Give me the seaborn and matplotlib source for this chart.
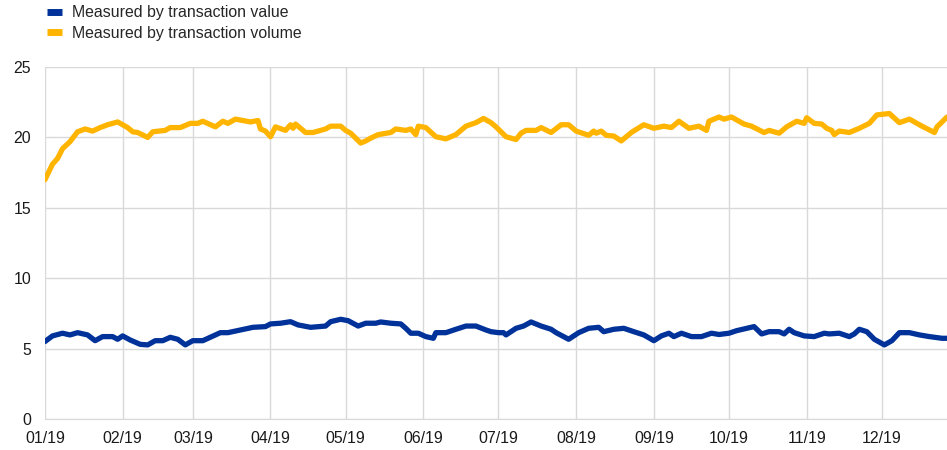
import pandas as pd
import seaborn as sns
import matplotlib.pyplot as plt
import matplotlib.dates as mdates
from matplotlib.lines import Line2D

# Values (2019)
value_dates = [
    "01-01", "01-04", "01-08", "01-11", "01-14", "01-18", "01-21", "01-24", "01-28", "01-30",
    "02-01", "02-04", "02-08", "02-11", "02-14", "02-17", "02-20", "02-23", "02-26", "03-01",
    "03-05", "03-12", "03-15", "03-20", "03-25", "03-30", "04-01", "04-05", "04-09", "04-12",
    "04-17", "04-23", "04-25", "04-29", "05-02", "05-06", "05-09", "05-13", "05-15", "05-19",
    "05-23", "05-25", "05-27", "05-30", "06-02", "06-05", "06-06", "06-10", "06-14", "06-18",
    "06-22", "06-26", "06-28", "07-01", "07-03", "07-04", "07-08", "07-11", "07-14", "07-18",
    "07-22", "07-24", "07-29", "08-02", "08-06", "08-10", "08-12", "08-16", "08-20", "08-24",
    "08-28", "09-01", "09-04", "09-07", "09-09", "09-12", "09-16", "09-20", "09-24", "09-27",
    "10-01", "10-04", "10-11", "10-14", "10-17", "10-21", "10-23", "10-25", "10-27", "10-31",
    "11-04", "11-08", "11-10", "11-14", "11-18", "11-20", "11-22", "11-25", "11-28", "12-02",
    "12-05", "12-08", "12-12", "12-16", "12-20", "12-25", "12-27",
]
by_value = [
    5.50, 5.90, 6.09, 5.97, 6.13, 5.97, 5.56, 5.85, 5.85, 5.66,
    5.90, 5.61, 5.30, 5.26, 5.56, 5.56, 5.80, 5.66, 5.26, 5.56,
    5.56, 6.13, 6.13, 6.32, 6.51, 6.56, 6.75, 6.80, 6.91, 6.68,
    6.51, 6.60, 6.91, 7.08, 6.98, 6.60, 6.80, 6.80, 6.89, 6.80,
    6.75, 6.44, 6.09, 6.09, 5.85, 5.73, 6.13, 6.13, 6.37, 6.60,
    6.60, 6.32, 6.20, 6.13, 6.13, 5.97, 6.44, 6.60, 6.89, 6.60,
    6.37, 6.13, 5.66, 6.13, 6.44, 6.51, 6.20, 6.37, 6.44, 6.20,
    5.97, 5.56, 5.90, 6.09, 5.85, 6.09, 5.85, 5.85, 6.09, 6.00,
    6.09, 6.27, 6.56, 6.04, 6.20, 6.20, 6.04, 6.37, 6.13, 5.90,
    5.85, 6.09, 6.04, 6.09, 5.85, 6.04, 6.37, 6.20, 5.66, 5.26,
    5.56, 6.13, 6.13, 5.97, 5.85, 5.73, 5.73,
]

volume_dates = [
    "01-01", "01-04", "01-06", "01-08", "01-11", "01-14", "01-17", "01-20", "01-23", "01-26",
    "01-30", "02-03", "02-05", "02-07", "02-11", "02-13", "02-18", "02-20", "02-24", "02-28",
    "03-03", "03-05", "03-10", "03-13", "03-15", "03-18", "03-24", "03-27", "03-28", "03-30",
    "04-01", "04-03", "04-07", "04-09", "04-10", "04-11", "04-15", "04-18", "04-23", "04-25",
    "04-29", "05-01", "05-03", "05-07", "05-09", "05-11", "05-14", "05-19", "05-21", "05-25",
    "05-27", "05-29", "05-30", "06-02", "06-06", "06-10", "06-14", "06-18", "06-22", "06-25",
    "06-28", "06-30", "07-02", "07-04", "07-08", "07-10", "07-12", "07-16", "07-18", "07-22",
    "07-26", "07-29", "08-01", "08-06", "08-08", "08-09", "08-11", "08-13", "08-16", "08-19",
    "08-23", "08-28", "09-01", "09-05", "09-08", "09-11", "09-15", "09-19", "09-22", "09-23",
    "09-27", "09-29", "10-02", "10-07", "10-10", "10-15", "10-17", "10-21", "10-24", "10-28",
    "10-31", "11-01", "11-04", "11-07", "11-09", "11-11", "11-12", "11-14", "11-18", "11-22",
    "11-26", "11-29", "12-04", "12-08", "12-12", "12-17", "12-22", "12-23", "12-27",
]
by_volume = [
    17.00, 18.10, 18.50, 19.20, 19.70, 20.40, 20.60, 20.45, 20.70, 20.90,
    21.10, 20.70, 20.40, 20.35, 20.00, 20.40, 20.50, 20.70, 20.70, 21.00,
    21.00, 21.15, 20.75, 21.15, 21.00, 21.30, 21.10, 21.20, 20.60, 20.45,
    20.05, 20.75, 20.50, 20.90, 20.65, 20.95, 20.35, 20.35, 20.60, 20.80,
    20.80, 20.50, 20.30, 19.60, 19.75, 19.95, 20.20, 20.35, 20.60, 20.50,
    20.60, 20.20, 20.80, 20.70, 20.05, 19.90, 20.20, 20.80, 21.05, 21.35,
    21.05, 20.75, 20.40, 20.05, 19.85, 20.30, 20.50, 20.50, 20.70, 20.35,
    20.90, 20.90, 20.45, 20.15, 20.45, 20.30, 20.45, 20.15, 20.10, 19.75,
    20.35, 20.90, 20.65, 20.80, 20.70, 21.15, 20.65, 20.80, 20.50, 21.15,
    21.45, 21.30, 21.45, 20.95, 20.80, 20.35, 20.50, 20.30, 20.75, 21.15,
    21.00, 21.40, 21.00, 20.95, 20.65, 20.50, 20.20, 20.45, 20.35, 20.65,
    21.00, 21.60, 21.70, 21.05, 21.30, 20.80, 20.35, 20.75, 21.45,
]

labels = ["Measured by transaction value", "Measured by transaction volume"]
colors = ["#003299", "#ffb400"]

df_val = pd.DataFrame({"date": pd.to_datetime(["2019-" + d for d in value_dates]), "share": by_value})
df_vol = pd.DataFrame({"date": pd.to_datetime(["2019-" + d for d in volume_dates]), "share": by_volume})

sns.set_style("white")
plt.rcParams["font.family"] = ["Liberation Sans", "DejaVu Sans"]

fig = plt.figure(figsize=(9.47, 4.5), dpi=100)
ax = fig.add_axes([0.0475, 0.069, 0.9525, 0.782])

sns.lineplot(data=df_vol, x="date", y="share", color=colors[1], linewidth=3.8, ax=ax)
sns.lineplot(data=df_val, x="date", y="share", color=colors[0], linewidth=3.8, ax=ax)

ax.set_ylim(0, 25)
ax.set_xlim(df_val["date"].min(), df_val["date"].max())
ax.set_yticks(range(0, 26, 5))
ax.xaxis.set_major_locator(mdates.MonthLocator())
ax.xaxis.set_major_formatter(mdates.DateFormatter("%m/%y"))
ax.set_xlabel("")
ax.set_ylabel("")
ax.grid(True, color="#d9d9d9", linewidth=1)
ax.set_axisbelow(True)
for s in ["top", "right", "left"]:
    ax.spines[s].set_visible(False)
ax.spines["bottom"].set_color("#d9d9d9")
ax.tick_params(axis="both", length=0, labelsize=11.4, colors="#1a1a1a")
ax.tick_params(axis="y", pad=10)
ax.tick_params(axis="x", pad=9)

handles = [Line2D([], [], color=c, linewidth=5, solid_capstyle="butt") for c in colors]
fig.legend(handles, labels, loc="upper left", bbox_to_anchor=(0.035, 1.02),
           frameon=False, fontsize=11.4, handlelength=0.9, handletextpad=0.65,
           labelspacing=0.35)

fig.savefig("out.png", dpi=100)
